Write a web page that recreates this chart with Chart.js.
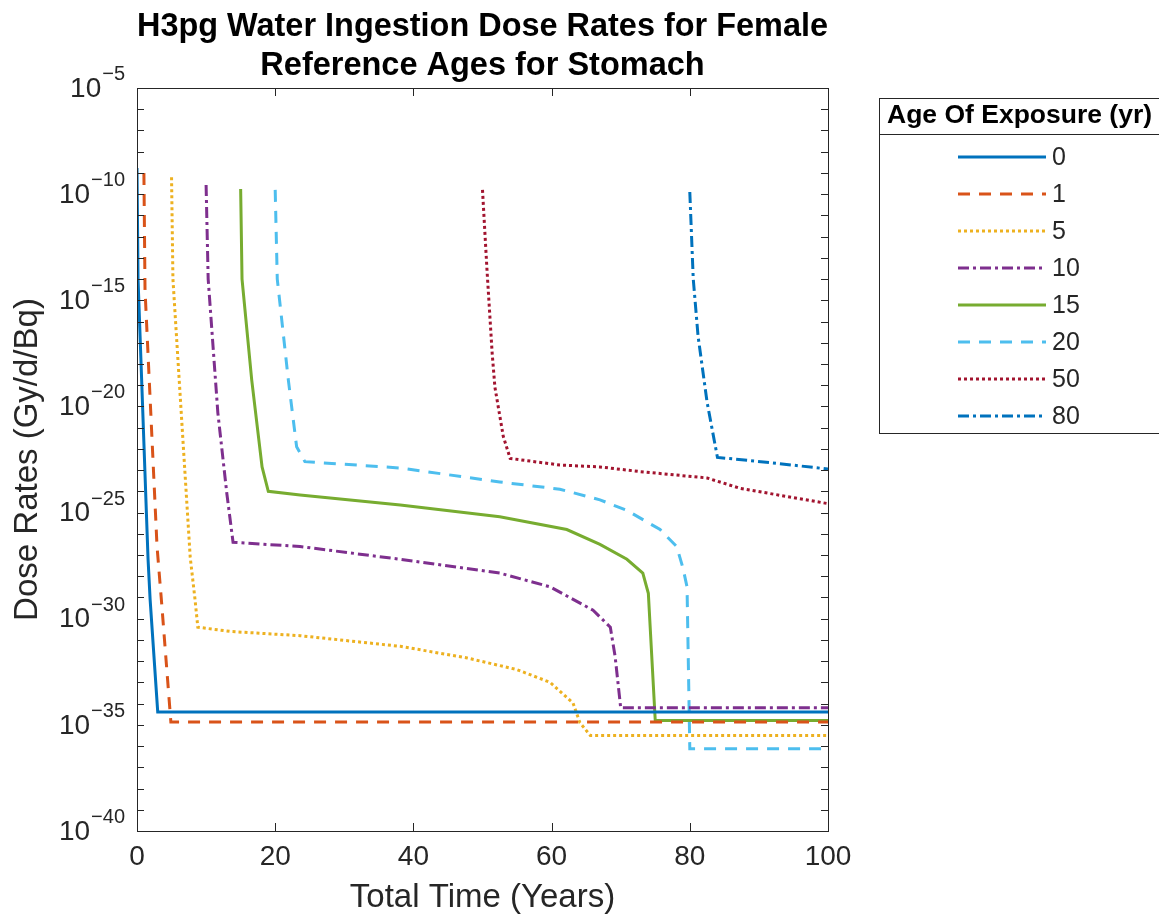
<!DOCTYPE html>
<html>
<head>
<meta charset="utf-8">
<script src="https://cdn.jsdelivr.net/npm/chart.js@4.4.1/dist/chart.umd.min.js"></script>
<style>
  html, body { margin: 0; padding: 0; background: #ffffff; }
  #wrap { width: 1159px; height: 924px; position: relative; }
</style>
</head>
<body>
<div id="wrap"><canvas id="c" width="1159" height="924"></canvas></div>
<script>
// ---------- data (time in years, dose rate as power of ten) ----------
const ageLabels = ['0', '1', '5', '10', '15', '20', '50', '80'];

const timeAge0 = [0, 0.15, 1.6, 1.9, 3, 100];
const expAge0  = [-8.77, -14.0, -27.2, -29.1, -34.39, -34.39];

const timeAge1 = [1, 1.16, 2.9, 3.6, 4.9, 100];
const expAge1  = [-9.0, -14.5, -26.6, -29.4, -34.86, -34.86];

const timeAge5 = [5, 5.2, 7.7, 8.4, 8.8, 13.5, 23.6, 38.1, 47.8, 55, 59.8, 63.1, 64.1, 65.6, 100];
const expAge5  = [-9.2, -14.0, -27.1, -29.1, -30.4, -30.6, -30.8, -31.3, -31.85, -32.4, -33.0, -33.97, -34.9, -35.5, -35.5];

const timeAge10 = [10, 10.3, 11.7, 13, 13.9, 23.6, 38.1, 52.5, 59.8, 66, 68.5, 69.2, 70, 100];
const expAge10  = [-9.57, -14.0, -20.3, -24.1, -26.4, -26.6, -27.2, -27.85, -28.5, -29.6, -30.4, -31.8, -34.2, -34.2];

const timeAge15 = [15, 15.2, 16.6, 18.1, 19, 23.6, 38.1, 52.5, 62.2, 67, 70.9, 73.2, 74, 75, 100];
const expAge15  = [-9.76, -14.0, -18.75, -22.85, -24.0, -24.17, -24.64, -25.2, -25.8, -26.5, -27.2, -27.85, -28.8, -34.8, -34.8];

const timeAge20 = [20, 20.3, 21.9, 23.1, 24.3, 38.1, 52.5, 61.2, 67, 70.9, 75.7, 78.1, 79, 79.6, 80, 100];
const expAge20  = [-9.8, -14.0, -18.75, -21.9, -22.6, -22.9, -23.56, -23.9, -24.4, -24.9, -25.8, -26.6, -27.6, -28.5, -36.13, -36.13];

const timeAge50 = [50, 50.65, 51.4, 51.8, 53, 54, 61.2, 67, 72.8, 82.5, 87.3, 100];
const expAge50  = [-9.8, -13.57, -17.5, -19.1, -21.4, -22.45, -22.76, -22.85, -23.07, -23.37, -23.86, -24.58];

const timeAge80 = [80, 80.5, 81.2, 82.5, 84, 92, 100];
const expAge80  = [-9.9, -14.0, -16.7, -19.8, -22.4, -22.66, -22.95];

const xTickValues = [0, 20, 40, 60, 80, 100];
const yDecadeExponents = [-40,-39,-38,-37,-36,-35,-34,-33,-32,-31,-30,-29,-28,-27,-26,-25,-24,-23,-22,-21,-20,-19,-18,-17,-16,-15,-14,-13,-12,-11,-10,-9,-8,-7,-6,-5];
const yLabelExponents = [-40, -35, -30, -25, -20, -15, -10, -5];

// ---------- styles ----------
const seriesColors = ['#0072BD', '#D95319', '#EDB120', '#7E2F8E', '#77AC30', '#4DBEEE', '#A2142F', '#0072BD'];
const DASH = { solid: [], dashed: [12, 9], dotted: [3, 3], dashdot: [11, 4, 3, 4] };
const seriesDash = [DASH.solid, DASH.dashed, DASH.dotted, DASH.dashdot, DASH.solid, DASH.dashed, DASH.dotted, DASH.dashdot];

const seriesTimes = [timeAge0, timeAge1, timeAge5, timeAge10, timeAge15, timeAge20, timeAge50, timeAge80];
const seriesExps  = [expAge0, expAge1, expAge5, expAge10, expAge15, expAge20, expAge50, expAge80];

const FONT = '"Liberation Sans", Arial, Helvetica, sans-serif';
const AXIS_COLOR = '#262626';

const datasets = ageLabels.map((lab, i) => ({
  label: lab,
  data: seriesTimes[i].map((t, k) => ({ x: t, y: Math.pow(10, seriesExps[i][k]) })),
  borderColor: seriesColors[i],
  backgroundColor: seriesColors[i],
  borderDash: seriesDash[i],
  borderWidth: 3,
  borderCapStyle: 'butt',
  borderJoinStyle: 'miter',
  pointRadius: 0,
  tension: 0,
  fill: false
}));

// ---------- plugins ----------
const axesBoxPlugin = {
  id: 'axesBox',
  afterDatasetsDraw(chart) {
    const { ctx, chartArea: a, scales } = chart;
    ctx.save();
    ctx.strokeStyle = AXIS_COLOR;
    ctx.lineWidth = 1;
    ctx.setLineDash([]);
    ctx.strokeRect(a.left + 0.5, a.top + 0.5, a.right - a.left, a.bottom - a.top);
    ctx.beginPath();
    scales.x.ticks.forEach(t => {
      const px = Math.round(scales.x.getPixelForValue(t.value)) + 0.5;
      ctx.moveTo(px, a.bottom); ctx.lineTo(px, a.bottom - 8);
      ctx.moveTo(px, a.top); ctx.lineTo(px, a.top + 8);
    });
    scales.y.ticks.forEach(t => {
      const py = Math.round(scales.y.getPixelForValue(t.value)) + 0.5;
      ctx.moveTo(a.left, py); ctx.lineTo(a.left + 7, py);
      ctx.moveTo(a.right, py); ctx.lineTo(a.right - 7, py);
    });
    ctx.stroke();
    ctx.restore();
  }
};

const yPowerLabelsPlugin = {
  id: 'yPowerLabels',
  afterDraw(chart) {
    const s = chart.scales.y;
    const ctx = chart.ctx;
    ctx.save();
    ctx.fillStyle = AXIS_COLOR;
    s.ticks.forEach(t => {
      const e = Math.round(Math.log10(t.value));
      if (!yLabelExponents.includes(e)) return;
      const y = s.getPixelForValue(t.value);
      const expText = (e < 0 ? '\u2212' : '') + Math.abs(e);
      const right = s.right - 12;
      ctx.font = '20px ' + FONT;
      const ew = ctx.measureText(expText).width;
      ctx.textAlign = 'right';
      ctx.textBaseline = 'alphabetic';
      ctx.fillText(expText, right, y - 8);
      ctx.font = '28px ' + FONT;
      ctx.textBaseline = 'middle';
      ctx.fillText('10', right - ew - 1, y + 1);
    });
    ctx.restore();
  }
};

const boxLegendPlugin = {
  id: 'boxLegend',
  afterDraw(chart) {
    const ctx = chart.ctx;
    const L = 879, T = 98, R = 1170, B = 433;
    ctx.save();
    ctx.fillStyle = '#ffffff';
    ctx.fillRect(L, T, R - L, B - T);
    ctx.strokeStyle = AXIS_COLOR;
    ctx.lineWidth = 1;
    ctx.setLineDash([]);
    ctx.strokeRect(L + 0.5, T + 0.5, R - L, B - T);
    ctx.beginPath();
    ctx.moveTo(L, 134.5); ctx.lineTo(R, 134.5);
    ctx.stroke();
    ctx.fillStyle = '#000000';
    ctx.font = 'bold 26.5px ' + FONT;
    ctx.textAlign = 'left';
    ctx.textBaseline = 'middle';
    ctx.fillText('Age Of Exposure (yr)', 887, 116);
    chart.data.datasets.forEach((ds, i) => {
      const y = 157 + i * 37;
      ctx.strokeStyle = ds.borderColor;
      ctx.lineWidth = ds.borderWidth;
      ctx.lineCap = 'butt';
      ctx.setLineDash(ds.borderDash || []);
      ctx.beginPath();
      ctx.moveTo(958, y); ctx.lineTo(1046, y);
      ctx.stroke();
      ctx.setLineDash([]);
      ctx.fillStyle = AXIS_COLOR;
      ctx.font = '25px ' + FONT;
      ctx.fillText(ds.label, 1052, y + 1);
    });
    ctx.restore();
  }
};

new Chart(document.getElementById('c'), {
  type: 'line',
  data: { datasets },
  options: {
    responsive: false,
    animation: false,
    events: [],
    layout: { padding: { left: 0, right: 331, top: 0, bottom: 0 } },
    plugins: {
      legend: { display: false },
      tooltip: { enabled: false },
      title: {
        display: true,
        fullSize: false,
        text: ['H3pg Water Ingestion Dose Rates for Female', 'Reference Ages for Stomach'],
        color: '#000000',
        font: { family: FONT, size: 32.5, weight: 'bold', lineHeight: 1.2 },
        padding: { top: 8, bottom: 2 }
      }
    },
    scales: {
      x: {
        type: 'linear',
        min: 0,
        max: 100,
        afterBuildTicks(scale) { scale.ticks = xTickValues.map(v => ({ value: v })); },
        afterFit(scale) { scale.height = 93; scale.paddingLeft = 0; scale.paddingRight = 0; },
        grid: { display: false, drawTicks: false },
        border: { display: false },
        ticks: { color: AXIS_COLOR, font: { family: FONT, size: 28 }, padding: 9, maxRotation: 0, autoSkip: false },
        title: {
          display: true,
          text: 'Total Time (Years)',
          color: AXIS_COLOR,
          font: { family: FONT, size: 33, lineHeight: 1.2 },
          padding: { top: 0, bottom: 6 }
        }
      },
      y: {
        type: 'logarithmic',
        min: 1e-40,
        max: 1e-5,
        afterBuildTicks(scale) { scale.ticks = yDecadeExponents.map(e => ({ value: Math.pow(10, e) })); },
        afterFit(scale) { scale.width = 137; scale.paddingTop = 0; scale.paddingBottom = 0; },
        grid: { display: false, drawTicks: false },
        border: { display: false },
        ticks: { display: false },
        title: {
          display: true,
          text: 'Dose Rates (Gy/d/Bq)',
          color: AXIS_COLOR,
          font: { family: FONT, size: 33, lineHeight: 1.2 },
          padding: { top: 8, bottom: 0 }
        }
      }
    }
  },
  plugins: [axesBoxPlugin, yPowerLabelsPlugin, boxLegendPlugin]
});
</script>
</body>
</html>
